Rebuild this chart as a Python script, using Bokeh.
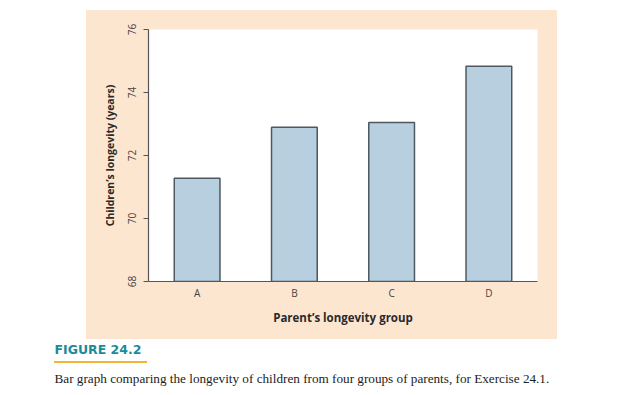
from bokeh.plotting import figure
from bokeh.models import FactorRange, Range1d, FixedTicker, ColumnDataSource, Title
from bokeh.embed import file_html
from bokeh.resources import INLINE

# ---- data ----
groups = ["A", "B", "C", "D"]
longevity = [71.28, 72.9, 73.05, 74.83]
y_ticks = [68, 70, 72, 74, 76]
y_start, y_end = 68, 76

x_title = "Parent\u2019s longevity group"
y_title = "Children\u2019s longevity (years)"
fig_label = "FIGURE 24.2"
caption = "Bar graph comparing the longevity of children from four groups of parents, for Exercise 24.1."

PEACH = "#fde6d0"
BAR = "#b8cfdf"
EDGE = "#4e5862"
AXIS = "#555555"
SANS = "Open Sans"
RULE = "#f2b632"

# page background: peach panel behind the chart + yellow rule under the figure label
bg = ("linear-gradient({r},{r}) 54px 361px / 93px 2px no-repeat, "
      "linear-gradient({p},{p}) 86px 10px / 471px 329px no-repeat, #ffffff").format(r=RULE, p=PEACH)

p = figure(x_range=FactorRange(*groups), y_range=Range1d(y_start, y_end),
           width=608, height=387, output_backend="svg", toolbar_location=None,
           min_border_left=148, min_border_right=71, min_border_top=29, min_border_bottom=106,
           styles={"background": bg})
p.border_fill_color = None
p.background_fill_color = "white"
p.outline_line_color = None
p.grid.visible = False

src = ColumnDataSource(dict(g=groups, v=longevity))
p.vbar(x="g", top="v", bottom=y_start, width=0.47, source=src,
       fill_color=BAR, line_color=EDGE, line_width=1.5)

p.yaxis.ticker = FixedTicker(ticks=y_ticks)
p.yaxis.major_label_orientation = "vertical"
p.yaxis.major_tick_out = 5
p.yaxis.major_tick_in = 0
p.yaxis.minor_tick_line_color = None
p.yaxis.major_label_standoff = 8
p.yaxis.axis_label = y_title
p.yaxis.axis_label_standoff = 8
p.yaxis.axis_label_text_font_size = "10.5px"

p.xaxis.major_tick_line_color = None
p.xaxis.major_tick_out = 0
p.xaxis.major_label_standoff = 4
p.xaxis.axis_label = x_title
p.xaxis.axis_label_standoff = 7
p.xaxis.axis_label_text_font_size = "11.5px"

for ax in (p.xaxis[0], p.yaxis[0]):
    ax.axis_line_color = AXIS
    ax.axis_line_width = 1.2
    ax.major_label_text_font = SANS
    ax.major_label_text_font_size = "10px"
    ax.major_label_text_color = "#444444"
    ax.axis_label_text_font = SANS
    ax.axis_label_text_font_style = "bold"
    ax.axis_label_text_color = "#2a2a2a"
p.yaxis.major_tick_line_color = AXIS

# ---- caption ----
p.add_layout(Title(text=fig_label, align="left", offset=-94, standoff=24,
                   text_font="DejaVu Sans", text_font_size="12.5px", text_font_style="bold",
                   text_color="#1a8c97"), "below")
p.add_layout(Title(text=caption, align="left", offset=-94, standoff=0,
                   text_font="Liberation Serif", text_font_size="13.2px", text_font_style="normal",
                   text_color="#222222"), "below")

open("out.html", "w").write(file_html(p, INLINE))
